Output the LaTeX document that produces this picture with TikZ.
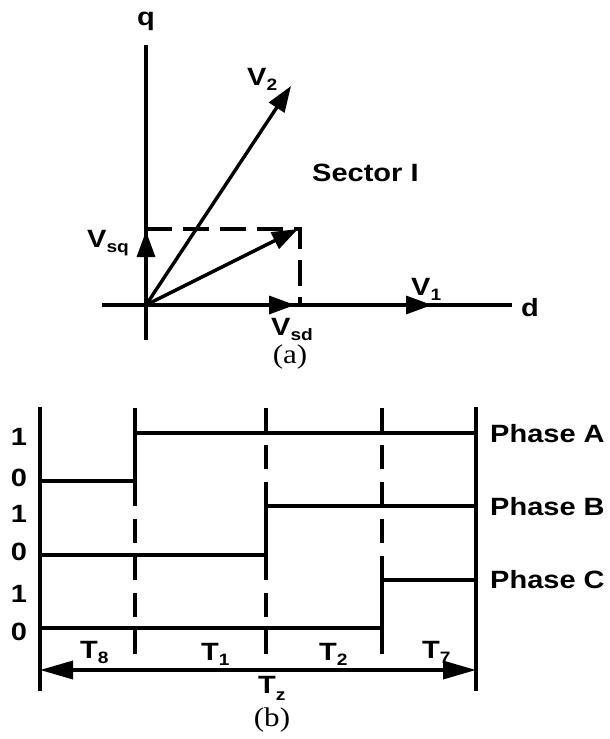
\documentclass[tikz,border=0pt]{standalone}
\usepackage{fontspec}
\setmainfont{Liberation Sans}
\newfontfamily\serifx{Liberation Serif}
\usetikzlibrary{arrows.meta}
\newcommand{\sbs}[2][-5pt]{\raisebox{#1}{\fontsize{16.5}{18}\selectfont #2}}
\begin{document}
\begin{tikzpicture}[x=1pt,y=-1pt,
  lbl/.style={font=\fontsize{25}{29}\selectfont\bfseries, xscale=1.16, inner sep=0pt},
  captxt/.style={font=\serifx\fontsize{27}{31}\selectfont, xscale=1.15, inner sep=0pt},
  axisline/.style={line width=4pt},
  vec/.style={line width=3.4pt, -{Triangle[length=26pt,width=18pt]}},
  guide/.style={line width=3.2pt, dash pattern=on 26pt off 11pt},
  wave/.style={line width=3.8pt},
  frame/.style={line width=4.4pt},
  tick/.style={line width=3.8pt, dash pattern=on 24pt off 13pt},
  span/.style={line width=3.6pt, {Triangle[length=33pt,width=18pt]}-{Triangle[length=33pt,width=18pt]}}
]
\path[use as bounding box] (0,0) rectangle (610,739);

% ---------------- (a) ----------------
\coordinate (O) at (146,305);
\coordinate (qtop) at (146,45);
\coordinate (qbot) at (146,340);
\coordinate (dl) at (102,305);
\coordinate (dr) at (512,305);
\coordinate (V2tip) at (291,86);
\coordinate (Vstip) at (298,229);
\coordinate (Vsqtip) at (146,231);
\coordinate (Vsdtip) at (295,305);
\coordinate (V1tip) at (432,305);
\coordinate (corner) at (300,229);
\coordinate (cornerq) at (146,229);
\coordinate (cornerd) at (300,305);

\draw[axisline] (qbot) -- (qtop);
\draw[axisline] (dl) -- (dr);
\draw[guide] (cornerq) -- (corner) -- (cornerd);
\draw[vec] (O) -- (V2tip);
\draw[vec] (O) -- (Vstip);
\draw[vec] (O) -- (Vsqtip);
\draw[vec] (O) -- (Vsdtip);
\draw[vec] (O) -- (V1tip);

\node[lbl, anchor=base] (q) at (146,25) {q};
\node[lbl, anchor=base west] (d) at (521,316) {d};
\node[lbl, anchor=base west] (lV2) at (247,85) {V\sbs{2}};
\node[lbl, anchor=base west] (lVsq) at (87,247) {V\sbs{sq}};
\node[lbl, anchor=base west] (lVsd) at (271,335) {V\sbs{sd}};
\node[lbl, anchor=base west] (lV1) at (411,295) {V\sbs{1}};
\node[lbl, anchor=base west] (sector) at (312,181) {Sector I};
\node[captxt] (capa) at (290,357) {(a)};

% ---------------- (b) ----------------
\coordinate (L1) at (40,407);
\coordinate (L2) at (40,691);
\coordinate (R1) at (476,407);
\coordinate (R2) at (476,691);

\draw[frame] (L1) -- (L2);
\draw[frame] (R1) -- (R2);

\foreach \x [count=\i] in {135,266,382}{
  \coordinate (t\i a) at (\x,408);
  \coordinate (t\i b) at (\x,655);
  \draw[tick] (t\i a) -- (t\i b);
}

\coordinate (A0) at (40,481);
\coordinate (A1) at (135,481);
\coordinate (A2) at (135,433);
\coordinate (A3) at (476,433);
\draw[wave] (A0) -- (A1) -- (A2) -- (A3);

\coordinate (B0) at (40,555);
\coordinate (B1) at (266,555);
\coordinate (B2) at (266,506);
\coordinate (B3) at (476,506);
\draw[wave] (B0) -- (B1) -- (B2) -- (B3);

\coordinate (C0) at (40,628);
\coordinate (C1) at (382,628);
\coordinate (C2) at (382,580);
\coordinate (C3) at (476,580);
\draw[wave] (C0) -- (C1) -- (C2) -- (C3);

\coordinate (S0) at (40,670);
\coordinate (S1) at (476,670);
\draw[span] (S0) -- (S1);

\node[lbl, anchor=base] (one1) at (19,445) {1};
\node[lbl, anchor=base] (zero1) at (19,486) {0};
\node[lbl, anchor=base] (one2) at (19,522) {1};
\node[lbl, anchor=base] (zero2) at (19,560) {0};
\node[lbl, anchor=base] (one3) at (19,602) {1};
\node[lbl, anchor=base] (zero3) at (19,640) {0};

\node[lbl, anchor=base west] (pA) at (490,442) {Phase A};
\node[lbl, anchor=base west] (pB) at (490,515) {Phase B};
\node[lbl, anchor=base west] (pC) at (490,588) {Phase C};

\node[lbl, anchor=base west] (T8) at (80,658) {T\sbs{8}};
\node[lbl, anchor=base west] (T1) at (201,660) {T\sbs{1}};
\node[lbl, anchor=base west] (T2) at (319,660) {T\sbs{2}};
\node[lbl, anchor=base west] (T7) at (422,658) {T\sbs{7}};
\node[lbl, anchor=base west] (Tz) at (258,693) {T\sbs[-7pt]{z}};
\node[captxt] (capb) at (272,720) {(b)};
\end{tikzpicture}
\end{document}
